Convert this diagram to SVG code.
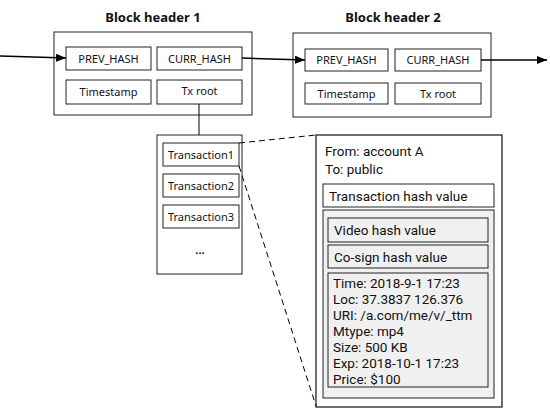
<svg xmlns="http://www.w3.org/2000/svg" width="550" height="414" viewBox="0 0 550 414">
<defs>
<marker id="arr" markerWidth="10" markerHeight="8" refX="10" refY="4" orient="auto" markerUnits="userSpaceOnUse">
<path d="M0,0 L10,4 L0,8 Z" fill="#000"/>
</marker>
<style>
.box{fill:#fff;stroke:#222;stroke-width:1}
.gbox{fill:#f0f0f0;stroke:#222;stroke-width:1}
.t{font-family:"Noto Sans","Open Sans","DejaVu Sans",sans-serif;font-size:11px;fill:#111;text-anchor:middle}
.title{font-family:"Noto Sans","Open Sans","DejaVu Sans",sans-serif;font-size:13px;font-weight:bold;fill:#111;text-anchor:middle}
.d{font-family:Roboto,"Noto Sans",sans-serif;font-size:13.5px;fill:#111}
.ln{stroke:#000;stroke-width:1.5;fill:none}
.dash{stroke:#000;stroke-width:1;fill:none;stroke-dasharray:6,4}
</style>
</defs>

<g id="block1">
<text class="title" x="153" y="22">Block header 1</text>
<rect class="box" x="54" y="32" width="198" height="83"/>
<g id="b1-prev"><rect class="box" x="66" y="47" width="85" height="23"/><text class="t" x="108.5" y="62.5">PREV_HASH</text></g>
<g id="b1-curr"><rect class="box" x="157" y="47" width="85" height="23"/><text class="t" x="199.5" y="62.5">CURR_HASH</text></g>
<g id="b1-ts"><rect class="box" x="66" y="80" width="85" height="24"/><text class="t" x="108.5" y="96">Timestamp</text></g>
<g id="b1-tx"><rect class="box" x="157" y="80" width="85" height="24"/><text class="t" x="199.5" y="95">Tx root</text></g>
</g>

<g id="block2">
<text class="title" x="393" y="22">Block header 2</text>
<rect class="box" x="293" y="33" width="198" height="84"/>
<g id="b2-prev"><rect class="box" x="305" y="49" width="83" height="22"/><text class="t" x="346.5" y="64">PREV_HASH</text></g>
<g id="b2-curr"><rect class="box" x="395" y="49" width="86" height="22"/><text class="t" x="438" y="64">CURR_HASH</text></g>
<g id="b2-ts"><rect class="box" x="305" y="83" width="83" height="21"/><text class="t" x="346.5" y="97.5">Timestamp</text></g>
<g id="b2-tx"><rect class="box" x="395" y="83" width="86" height="21"/><text class="t" x="438" y="97.5">Tx root</text></g>
</g>

<g id="txlist">
<rect class="box" x="157" y="135" width="85" height="139"/>
<g id="tx1"><rect class="box" x="163" y="143" width="76" height="23"/><text class="t" x="201" y="158.5">Transaction1</text></g>
<g id="tx2"><rect class="box" x="163" y="174" width="76" height="23"/><text class="t" x="201" y="189.5">Transaction2</text></g>
<g id="tx3"><rect class="box" x="163" y="205" width="76" height="23"/><text class="t" x="201" y="220.5">Transaction3</text></g>
<text class="t" x="200" y="254" style="font-weight:bold">...</text>
</g>

<g id="detail">
<rect class="box" x="316" y="135" width="186" height="272" style="stroke-width:1.3"/>
<text class="d" x="325" y="156">From: account A</text>
<text class="d" x="325" y="174">To: public</text>
<g id="txhash"><rect class="box" x="323" y="184" width="171" height="23"/><text class="d" x="329" y="200.5">Transaction hash value</text></g>
<rect class="gbox" x="323" y="210" width="171" height="188"/>
<g id="vhash"><rect class="gbox" x="328" y="218" width="160" height="24"/><text class="d" x="334" y="235">Video hash value</text></g>
<g id="chash"><rect class="gbox" x="328" y="245" width="160" height="23"/><text class="d" x="334" y="261.5">Co-sign hash value</text></g>
<g id="info"><rect class="gbox" x="328" y="273" width="160" height="114"/>
<text class="d" x="333" y="288">Time: 2018-9-1 17:23</text>
<text class="d" x="333" y="304">Loc: 37.3837 126.376</text>
<text class="d" x="333" y="320">URI: /a.com/me/v/_ttm</text>
<text class="d" x="333" y="336">Mtype: mp4</text>
<text class="d" x="333" y="352">Size: 500 KB</text>
<text class="d" x="333" y="368">Exp: 2018-10-1 17:23</text>
<text class="d" x="333" y="384">Price: $100</text>
</g>
</g>

<g id="connectors">
<line class="ln" x1="0" y1="56" x2="66" y2="58" marker-end="url(#arr)"/>
<line class="ln" x1="242" y1="58" x2="305" y2="60" marker-end="url(#arr)"/>
<line class="ln" x1="481" y1="60" x2="547" y2="60" marker-end="url(#arr)"/>
<line x1="199" y1="104" x2="199" y2="135" stroke="#000" stroke-width="1"/>
<line class="dash" x1="239" y1="143" x2="316" y2="135"/>
<line class="dash" x1="239" y1="166" x2="316" y2="406"/>
</g>
</svg>
